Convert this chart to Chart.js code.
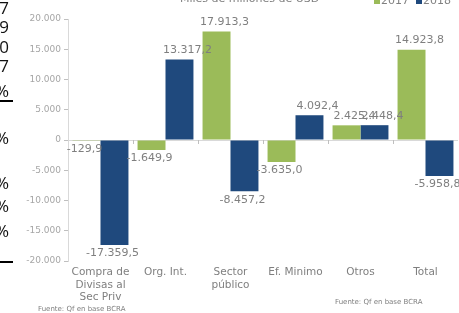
<!DOCTYPE html>
<html lang="es">
  <head>
    <meta charset="UTF-8" />
    <title>Miles de millones de USD</title>
    <script src="https://cdn.jsdelivr.net/npm/chart.js"></script>
    <style>
      body {
        margin: 0;
        width: 459px;
        height: 313px;
        overflow: hidden;
        background: #fff;
        font-family: "DejaVu Sans", sans-serif;
        position: relative;
      }
      #wrap {
        position: absolute;
        left: 0;
        top: 0;
        width: 459px;
        height: 313px;
      }
      .title {
        position: absolute;
        left: 180px;
        top: -8px;
        font-size: 11px;
        color: #808080;
        white-space: nowrap;
      }
      .leg {
        position: absolute;
        top: -6px;
        font-size: 11px;
        color: #808080;
        white-space: nowrap;
      }
      .leg span.box {
        display: inline-block;
        width: 6px;
        height: 6px;
        margin-right: 1px;
      }
      .src {
        position: absolute;
        font-size: 7px;
        color: #808080;
        white-space: nowrap;
      }
      .stray {
        position: absolute;
        right: 450px;
        font-family: "Open Sans", sans-serif;
        font-size: 17px;
        color: #111;
        line-height: 1;
      }
      .rule {
        position: absolute;
        left: 0;
        width: 13px;
        height: 2px;
        background: #000;
      }
    </style>
  </head>
  <body>
    <div id="wrap"><canvas id="chart" width="459" height="313"></canvas></div>

    <div class="title">Miles de millones de USD</div>
    <div class="leg" style="left: 374px"><span class="box" style="background: #9bbb59"></span>2017</div>
    <div class="leg" style="left: 416px"><span class="box" style="background: #1f497d"></span>2018</div>
    <div class="src" style="left: 38px; top: 305px">Fuente: Qf en base BCRA</div>
    <div class="src" style="left: 335px; top: 298px">Fuente: Qf en base BCRA</div>

    <!-- restos de otra tabla a la izquierda -->
    <div class="stray" style="top: -1px">7</div>
    <div class="stray" style="top: 18px">9</div>
    <div class="stray" style="top: 38px">0</div>
    <div class="stray" style="top: 57px">7</div>
    <div class="stray" style="top: 82px">%</div>
    <div class="rule" style="top: 100px"></div>
    <div class="stray" style="top: 129px">%</div>
    <div class="stray" style="top: 174px">%</div>
    <div class="stray" style="top: 197px">%</div>
    <div class="stray" style="top: 222px">%</div>
    <div class="rule" style="top: 261px"></div>

    <script>
      var categories = [
        ["Compra de", "Divisas al", "Sec Priv"],
        "Org. Int.",
        ["Sector", "público"],
        "Ef. Minimo",
        "Otros",
        "Total",
      ];
      var values2017 = [-129.9, -1649.9, 17913.3, -3635.0, 2425.4, 14923.8];
      var values2018 = [-17359.5, 13317.2, -8457.2, 4092.4, 2448.4, -5958.8];
      var yTicks = [-20000, -15000, -10000, -5000, 0, 5000, 10000, 15000, 20000];

      function fmt(v, dec) {
        var s = Math.abs(v).toFixed(dec).split(".");
        var ent = s[0].replace(/\B(?=(\d{3})+(?!\d))/g, ".");
        return (v < 0 ? "-" : "") + ent + (dec ? "," + s[1] : "");
      }

      // etiquetas de valor y marcas en la línea del cero
      var valueLabels = {
        id: "valueLabels",
        afterDatasetsDraw: function (chart) {
          var ctx = chart.ctx;
          var y = chart.scales.y;
          var x = chart.scales.x;
          var y0 = y.getPixelForValue(0);
          ctx.save();
          ctx.strokeStyle = "#bfbfbf";
          ctx.lineWidth = 1;
          for (var i = 1; i < categories.length; i++) {
            var bx = Math.round((x.getPixelForTick(i - 1) + x.getPixelForTick(i)) / 2) + 0.5;
            ctx.beginPath();
            ctx.moveTo(bx, y0);
            ctx.lineTo(bx, y0 + 4);
            ctx.stroke();
          }
          ctx.font = "11px 'DejaVu Sans'";
          ctx.fillStyle = "#7f7f7f";
          ctx.textAlign = "center";
          chart.data.datasets.forEach(function (ds, di) {
            chart.getDatasetMeta(di).data.forEach(function (bar, i) {
              var v = ds.data[i];
              if (v >= 0) {
                ctx.textBaseline = "bottom";
                ctx.fillText(fmt(v, 1), bar.x + 8, bar.y - 4);
              } else {
                ctx.textBaseline = "top";
                ctx.fillText(fmt(v, 1), bar.x - 2, bar.y + 3);
              }
            });
          });
          ctx.restore();
        },
      };

      new Chart(document.getElementById("chart").getContext("2d"), {
        type: "bar",
        data: {
          labels: categories,
          datasets: [
            {
              label: "2017",
              data: values2017,
              backgroundColor: "#9bbb59",
            },
            {
              label: "2018",
              data: values2018,
              backgroundColor: "#1f497d",
            },
          ],
        },
        options: {
          responsive: false,
          animation: false,
          categoryPercentage: 0.86,
          barPercentage: 1.0,
          layout: { padding: { top: 19, right: 1, left: 0, bottom: 0 } },
          plugins: {
            legend: { display: false },
            tooltip: { enabled: false },
          },
          scales: {
            x: {
              grid: { display: false, drawTicks: false },
              border: { display: false },
              afterFit: function (s) {
                s.height = 52;
              },
              ticks: {
                padding: 5,
                color: "#7f7f7f",
                font: { family: "DejaVu Sans", size: 10.5, lineHeight: 1.2 },
                maxRotation: 0,
                autoSkip: false,
              },
            },
            y: {
              min: -20000,
              max: 20000,
              afterFit: function (s) {
                s.width = 68;
              },
              afterBuildTicks: function (s) {
                s.ticks = yTicks.map(function (v) {
                  return { value: v };
                });
              },
              border: { display: true, color: "#d9d9d9" },
              grid: {
                color: function (c) {
                  return c.tick && c.tick.value === 0 ? "#d9d9d9" : "rgba(0,0,0,0)";
                },
                tickColor: "#bfbfbf",
                tickLength: 4,
              },
              ticks: {
                padding: 3,
                color: "#a6a6a6",
                font: { family: "DejaVu Sans", size: 9 },
                callback: function (v) {
                  return fmt(v, 0);
                },
              },
            },
          },
        },
        plugins: [valueLabels],
      });
    </script>
  </body>
</html>
